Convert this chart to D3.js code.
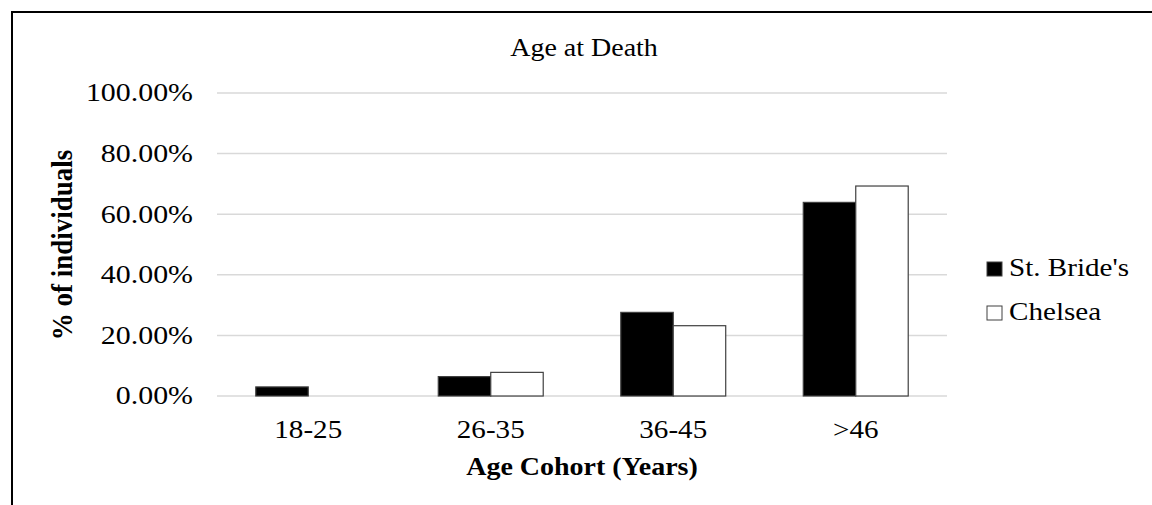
<!DOCTYPE html>
<html>
<head>
<meta charset="utf-8">
<script src="https://cdn.jsdelivr.net/npm/d3@7"></script>
<style>
  body { margin: 0; background: #fff; }
  text { font-family: "Liberation Serif", "Times New Roman", serif; fill: #000; }
</style>
</head>
<body>
<svg id="bg" width="1152" height="505"></svg>
<script>
var categories = ['18-25', '26-35', '36-45', '>46'];
var series = ["St. Bride's", 'Chelsea'];
var stBrides = [0.030, 0.064, 0.276, 0.639];
var chelsea = [0.000, 0.078, 0.232, 0.693];
var yTicks = [0, 0.2, 0.4, 0.6, 0.8, 1.0];

var stretch = 1.12;

var svg = d3.select('#bg');

// marco (solo se ven el borde superior e izquierdo)
svg.append('rect')
  .attr('x', 12)
  .attr('y', 12)
  .attr('width', 1200)
  .attr('height', 600)
  .attr('fill', 'none')
  .attr('stroke', '#000')
  .attr('stroke-width', 2);

var heightScale = d3.scaleLinear()
  .domain([0, 1])
  .range([396, 93]);

var xScale = d3.scaleBand()
  .domain(categories)
  .range([217, 947])
  .paddingInner(0.425)
  .paddingOuter(0.2125);

var xSub = d3.scaleBand()
  .domain(series)
  .range([0, xScale.bandwidth()]);

var fills = { "St. Bride's": '#000', 'Chelsea': '#fff' };

// grid
svg.selectAll('.grid')
  .data(yTicks)
  .join('line')
  .attr('class', 'grid')
  .attr('x1', 217)
  .attr('x2', 947)
  .attr('y1', d => heightScale(d))
  .attr('y2', d => heightScale(d))
  .attr('stroke', '#d9d9d9')
  .attr('stroke-width', 1.5);

// eje y
var yAxis = svg.append('g')
  .attr('transform', 'translate(193,0)')
  .call(d3.axisLeft(heightScale).tickValues(yTicks).tickSize(0).tickPadding(0)
    .tickFormat(d => (d * 100).toFixed(2) + '%'));
yAxis.select('.domain').remove();
yAxis.selectAll('text')
  .attr('font-size', 26)
  .attr('dy', '0.3em')
  .attr('transform', 'scale(1.15,1)');

// eje x
var xAxis = svg.append('g')
  .attr('transform', 'translate(0,396)')
  .call(d3.axisBottom(xScale).tickSize(0).tickPadding(0));
xAxis.select('.domain').remove();
xAxis.selectAll('text')
  .attr('font-size', 26)
  .attr('dy', null)
  .attr('y', 42)
  .attr('transform', 'scale(' + stretch + ',1)');

// barras
var data = categories.map((c, i) => ({ cat: c, values: [
  { key: series[0], v: stBrides[i] },
  { key: series[1], v: chelsea[i] }
] }));

var grupos = svg.selectAll('.grupo')
  .data(data)
  .join('g')
  .attr('class', 'grupo')
  .attr('transform', d => 'translate(' + xScale(d.cat) + ',0)');

grupos.selectAll('rect')
  .data(d => d.values.filter(e => e.v > 0))
  .join('rect')
  .attr('x', d => xSub(d.key))
  .attr('y', d => heightScale(d.v))
  .attr('width', xSub.bandwidth())
  .attr('height', d => heightScale(0) - heightScale(d.v))
  .attr('fill', d => fills[d.key])
  .attr('stroke', '#404040')
  .attr('stroke-width', 1.2);

// titulo
svg.append('text')
  .text('Age at Death')
  .attr('font-size', 25)
  .attr('text-anchor', 'middle')
  .attr('transform', 'translate(584,56) scale(' + stretch + ',1)');

// titulos de ejes
svg.append('text')
  .text('Age Cohort (Years)')
  .attr('font-size', 25)
  .attr('font-weight', 'bold')
  .attr('text-anchor', 'middle')
  .attr('transform', 'translate(582,475) scale(' + stretch + ',1)');

svg.append('text')
  .text('% of individuals')
  .attr('font-size', 26)
  .attr('font-weight', 'bold')
  .attr('text-anchor', 'middle')
  .attr('transform', 'translate(72,245) rotate(-90) scale(1.04,' + stretch + ')');

// leyenda
var leyenda = svg.selectAll('.leyenda')
  .data(series)
  .join('g')
  .attr('class', 'leyenda')
  .attr('transform', (d, i) => 'translate(987,' + (262 + i * 44) + ')');

leyenda.append('rect')
  .attr('width', 15)
  .attr('height', 14)
  .attr('fill', d => fills[d])
  .attr('stroke', '#404040')
  .attr('stroke-width', 1);

leyenda.append('text')
  .text(d => d)
  .attr('font-size', 26)
  .attr('transform', 'translate(22,14) scale(' + stretch + ',1)');
</script>
</body>
</html>
